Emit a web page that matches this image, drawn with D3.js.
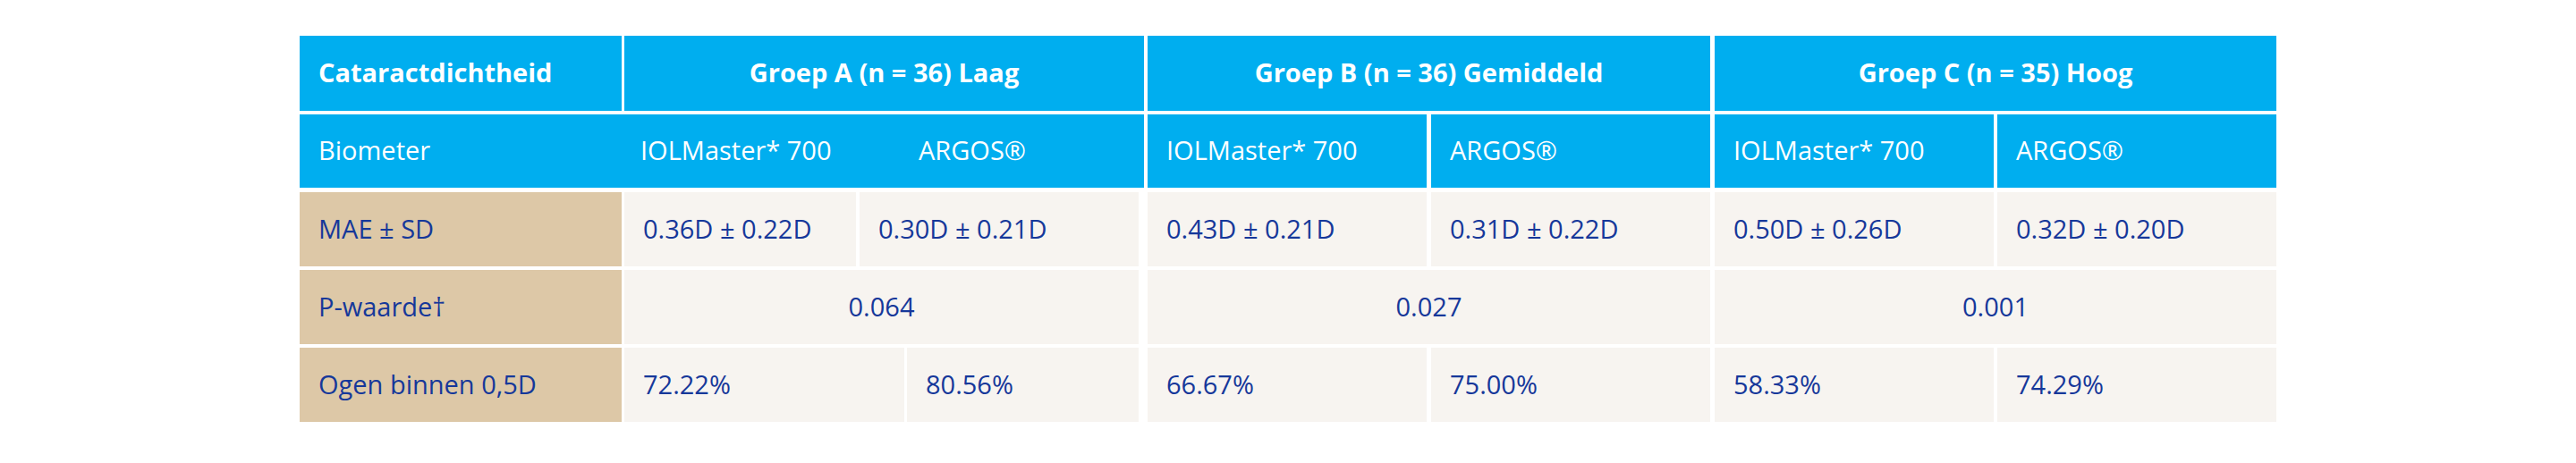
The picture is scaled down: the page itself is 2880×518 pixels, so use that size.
<!DOCTYPE html><html><head><meta charset="utf-8"><script src="https://cdn.jsdelivr.net/npm/d3@7"></script>
<style>body{margin:0;background:#fff}text{font-family:"Open Sans",sans-serif;font-size:29px}</style></head><body><svg id="c" width="2880" height="518"></svg>
<script>
const rowLabels=["Cataractdichtheid","Biometer","MAE ± SD","P-waarde†","Ogen binnen 0,5D"];
const groups=["Groep A (n = 36) Laag","Groep B (n = 36) Gemiddeld","Groep C (n = 35) Hoog"];
const biometers=["IOLMaster* 700","ARGOS®"];
const mae=["0.36D ± 0.22D","0.30D ± 0.21D","0.43D ± 0.21D","0.31D ± 0.22D","0.50D ± 0.26D","0.32D ± 0.20D"];
const pvals=["0.064","0.027","0.001"];
const within=["72.22%","80.56%","66.67%","75.00%","58.33%","74.29%"];

const blue="#00AEEF",tan="#DDC8A7",light="#F7F4F0",ink="#16389A";
const rows=[[40,124],[128,210],[215,298],[302,385],[389,472]];
const cells=[];const texts=[];
function cell(r,x0,x1,fill){cells.push({r,x0,x1,fill});}
function txt(r,x,s,opt={}){texts.push({r,x,s,...opt});}
// row 0
cell(0,335,695,blue);txt(0,356,rowLabels[0],{bold:1,fill:"#fff"});
[[698,1279],[1283,1912],[1917,2545]].forEach((b,i)=>{cell(0,b[0],b[1],blue);txt(0,(b[0]+b[1])/2,groups[i],{bold:1,fill:"#fff",anchor:"middle"});});
// row 1
cell(1,335,1279,blue);txt(1,356,rowLabels[1],{fill:"#fff"});
txt(1,716,biometers[0],{fill:"#fff"});txt(1,1027,biometers[1],{fill:"#fff"});
const sub=[[1283,1595],[1600,1912],[1917,2229],[2233,2545]];
sub.forEach((b,i)=>{cell(1,b[0],b[1],blue);txt(1,b[0]+21,biometers[i%2],{fill:"#fff"});});
// row 2
cell(2,335,695,tan);txt(2,356,rowLabels[2]);
const r2=[[698,957],[961,1273]].concat(sub);
r2.forEach((b,i)=>{cell(2,b[0],b[1],light);txt(2,b[0]+21,mae[i]);});
// row 3
cell(3,335,695,tan);txt(3,356,rowLabels[3]);
[[698,1273],[1283,1912],[1917,2545]].forEach((b,i)=>{cell(3,b[0],b[1],light);txt(3,(b[0]+b[1])/2,pvals[i],{anchor:"middle"});});
// row 4
cell(4,335,695,tan);txt(4,356,rowLabels[4]);
const r4=[[698,1011],[1014,1273]].concat(sub);
r4.forEach((b,i)=>{cell(4,b[0],b[1],light);txt(4,b[0]+21,within[i]);});

const svg=d3.select("#c");
svg.selectAll("rect").data(cells).join("rect")
 .attr("x",d=>d.x0).attr("width",d=>d.x1-d.x0).attr("y",d=>rows[d.r][0]).attr("height",d=>rows[d.r][1]-rows[d.r][0]).attr("fill",d=>d.fill);
svg.selectAll("text").data(texts).join("text")
 .attr("x",d=>d.x).attr("y",d=>(rows[d.r][0]+rows[d.r][1])/2+10)
 .attr("text-anchor",d=>d.anchor||"start").attr("font-weight",d=>d.bold?700:400)
 .attr("fill",d=>d.fill||ink).text(d=>d.s);
</script></body></html>
